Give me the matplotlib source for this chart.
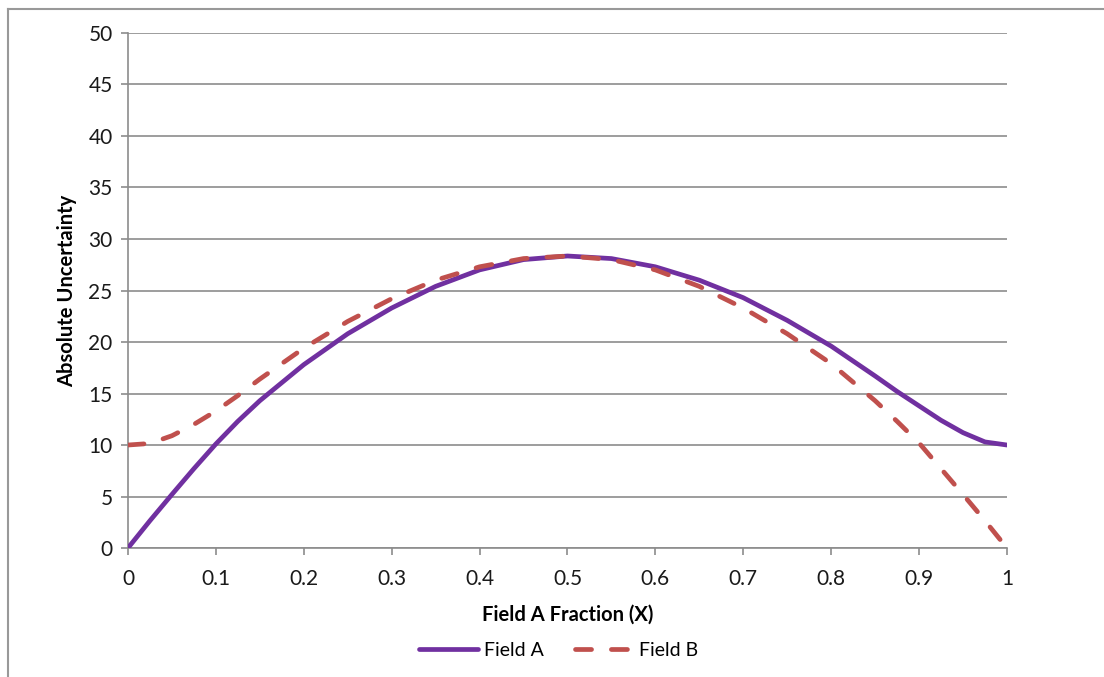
import matplotlib.pyplot as plt
from matplotlib.lines import Line2D

# values
x_frac = [0.0, 0.025, 0.05, 0.075, 0.1, 0.125, 0.15, 0.2, 0.25, 0.3, 0.35, 0.4,
          0.45, 0.5, 0.55, 0.6, 0.65, 0.7, 0.75, 0.8, 0.85, 0.875, 0.9, 0.925,
          0.95, 0.975, 1.0]
field_a = [0.0, 2.65, 5.2, 7.7, 10.1, 12.3, 14.3, 17.8, 20.8, 23.3, 25.4, 27.0,
           28.0, 28.35, 28.1, 27.3, 26.0, 24.3, 22.1, 19.6, 16.7, 15.2, 13.8, 12.4,
           11.2, 10.3, 10.0]
field_b = [10.0, 10.15, 10.9, 12.0, 13.3, 14.8, 16.4, 19.4, 22.0, 24.2, 26.0, 27.3,
           28.1, 28.35, 28.0, 27.0, 25.4, 23.3, 20.8, 17.9, 14.3, 12.3, 10.2, 7.7,
           5.2, 2.65, 0.0]

x_ticks = [0, 0.1, 0.2, 0.3, 0.4, 0.5, 0.6, 0.7, 0.8, 0.9, 1]
x_tick_labels = ["0", "0.1", "0.2", "0.3", "0.4", "0.5", "0.6", "0.7", "0.8", "0.9", "1"]
y_ticks = [0, 5, 10, 15, 20, 25, 30, 35, 40, 45, 50]

plt.rcParams['font.family'] = ['Lato', 'DejaVu Sans']

fig = plt.figure(figsize=(11.04, 6.77), dpi=100)
ax = fig.add_axes([0.1159, 0.1905, 0.7962, 0.7608])

grid_col = "#8c8c8c"
ax.plot(x_frac, field_a, color="#7030A0", lw=3.4, solid_capstyle="round",
        solid_joinstyle="round", label="Field A", zorder=3)
ax.plot(x_frac, field_b, color="#C0504D", lw=3.4, dashes=(3.4, 4.2),
        dash_capstyle="round", label="Field B", zorder=4)

ax.set_xlim(0, 1)
ax.set_ylim(0, 50)
ax.set_xticks(x_ticks)
ax.set_xticklabels(x_tick_labels)
ax.set_yticks(y_ticks)
ax.tick_params(axis="both", labelsize=15, color=grid_col, length=5, width=1.2,
               labelcolor="#1a1a1a")
ax.tick_params(axis="x", pad=10)
ax.tick_params(axis="y", pad=6)
ax.grid(axis="y", color=grid_col, lw=1.2)
ax.set_axisbelow(True)
for side in ["top", "right"]:
    ax.spines[side].set_visible(False)
for side in ["left", "bottom"]:
    ax.spines[side].set_color(grid_col)
    ax.spines[side].set_linewidth(1.2)

ax.set_xlabel("Field A Fraction (X)", fontsize=14.5, fontweight="bold")
ax.set_ylabel("Absolute Uncertainty", fontsize=14.5, fontweight="bold")
ax.xaxis.set_label_coords(0.5, -0.11)
ax.yaxis.set_label_coords(-0.058, 0.5)

ax.legend(loc="center", bbox_to_anchor=(0.49, -0.198), ncol=2, frameon=False,
          fontsize=14, handlelength=3.0, columnspacing=1.6, handletextpad=0.3)

# outer chart border (only top and left visible in the crop)
fig.add_artist(Line2D([8 / 1104, 1], [1 - 9 / 677, 1 - 9 / 677], color="#999999", lw=1.5))
fig.add_artist(Line2D([8 / 1104, 8 / 1104], [0, 1 - 9 / 677], color="#999999", lw=1.5))

fig.savefig("out.png", dpi=100)
